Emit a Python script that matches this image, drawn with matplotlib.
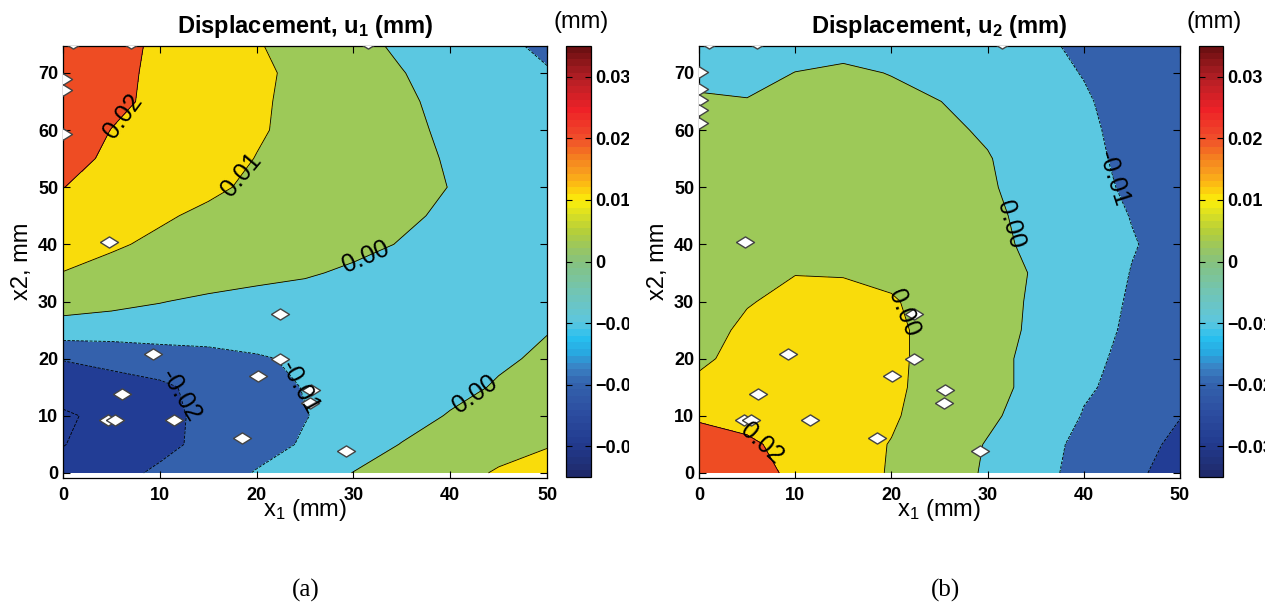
import numpy as np
import matplotlib
matplotlib.use("Agg")
import matplotlib.pyplot as plt
from matplotlib.colors import LinearSegmentedColormap, Normalize
from matplotlib.cm import ScalarMappable
from matplotlib.transforms import Bbox, TransformedBbox

plt.rcParams['font.family'] = ['Liberation Sans', 'DejaVu Sans']
plt.rcParams['mathtext.fontset'] = 'custom'
plt.rcParams['mathtext.rm'] = 'Liberation Sans'
plt.rcParams['mathtext.it'] = 'Liberation Sans:italic'
plt.rcParams['mathtext.bf'] = 'Liberation Sans:bold'

# ---------------- data ----------------
X_MM = [0, 5, 10, 15, 20, 25, 30, 35, 40, 45, 50]
Y_MM = [0, 5, 10, 15, 20, 25, 30, 35, 40, 45, 50, 55, 60, 65, 70, 75]

# displacement u1 in micrometres, rows = Y_MM, columns = X_MM
U1_UM = [
    [-27.0, -23.0, -18.5, -14.0, -9.5, -5.0, 0.2, 3.5, 7.0, 10.8, 13.0],
    [-30.3, -26.0, -22.5, -17.5, -13.0, -9.2, -4.5, 0.3, 4.0, 7.0, 9.5],
    [-31.5, -27.0, -23.0, -17.5, -13.5, -10.3, -7.0, -3.5, 0.6, 4.0, 7.0],
    [-25.0, -23.5, -21.5, -17.5, -13.5, -9.6, -7.0, -5.0, -2.5, 0.8, 3.5],
    [-19.6, -17.5, -15.5, -13.5, -11.0, -8.5, -6.5, -5.0, -3.5, -1.2, 1.3],
    [-4.5, -5.0, -4.5, -5.0, -5.0, -5.0, -5.0, -4.5, -3.5, -2.0, -0.3],
    [4.5, 2.5, 0.3, -1.5, -3.0, -4.0, -4.5, -4.5, -4.0, -3.0, -2.0],
    [9.8, 7.5, 5.5, 4.0, 2.5, 1.0, -1.5, -3.0, -4.0, -4.5, -5.0],
    [14.0, 11.0, 8.5, 7.0, 5.5, 4.0, 2.5, -0.5, -3.0, -4.5, -5.5],
    [17.0, 14.5, 11.0, 8.5, 7.0, 5.5, 4.0, 1.5, -1.5, -4.0, -6.0],
    [20.1, 17.5, 14.5, 11.5, 8.5, 6.5, 5.0, 3.0, -0.2, -3.5, -6.5],
    [22.0, 19.0, 16.0, 13.0, 9.8, 7.5, 5.5, 2.8, -0.8, -4.0, -7.0],
    [23.5, 19.9, 16.5, 13.5, 10.8, 7.8, 5.0, 2.0, -1.5, -4.5, -7.5],
    [24.5, 21.5, 18.5, 15.0, 11.0, 8.0, 5.0, 1.5, -2.5, -5.5, -8.5],
    [25.0, 22.0, 18.5, 15.0, 11.5, 8.0, 4.0, 0.3, -3.5, -6.5, -9.3],
    [24.0, 22.0, 19.0, 15.0, 10.5, 7.0, 2.5, -1.5, -4.5, -8.0, -12.0],
]

# displacement u2 in micrometres
U2_UM = [
    [27.0, 23.0, 18.5, 14.0, 9.3, 4.0, -1.0, -7.0, -13.0, -18.5, -23.0],
    [25.0, 21.5, 17.0, 13.0, 9.7, 4.5, -0.5, -6.0, -12.5, -17.5, -21.5],
    [18.5, 17.0, 15.0, 13.0, 11.0, 6.0, 1.5, -3.5, -10.5, -15.0, -19.8],
    [11.0, 13.0, 13.5, 13.0, 11.5, 7.0, 3.0, -2.5, -9.0, -12.5, -17.5],
    [9.2, 11.5, 13.0, 13.0, 11.5, 7.5, 3.0, -2.5, -7.5, -12.5, -16.0],
    [7.0, 11.5, 13.0, 13.0, 11.5, 7.5, 3.5, -1.5, -6.5, -11.5, -15.0],
    [5.5, 9.5, 12.0, 12.0, 10.8, 6.5, 3.0, -1.0, -5.5, -11.0, -14.5],
    [4.5, 7.0, 9.8, 9.6, 8.0, 5.0, 2.5, -0.5, -5.0, -10.3, -14.0],
    [4.0, 5.0, 6.0, 6.0, 5.5, 4.0, 2.0, -1.5, -5.5, -9.5, -13.0],
    [4.0, 4.5, 5.0, 5.0, 4.5, 3.5, 1.5, -2.0, -6.0, -10.3, -13.0],
    [4.0, 4.5, 4.5, 4.5, 4.0, 3.0, 0.8, -2.8, -7.0, -11.5, -13.5],
    [3.5, 4.0, 4.0, 4.0, 3.5, 2.5, 0.4, -3.5, -8.0, -12.0, -14.0],
    [2.5, 3.0, 3.0, 3.0, 2.5, 1.5, -0.9, -5.0, -8.5, -12.5, -14.5],
    [1.2, 0.3, 1.5, 2.0, 1.5, 0.1, -2.5, -6.0, -9.2, -13.0, -15.0],
    [-2.5, -2.0, 0.1, 1.0, -0.2, -3.0, -5.5, -7.5, -10.3, -14.0, -16.0],
    [-3.0, -3.0, -2.5, -2.0, -3.5, -5.0, -7.0, -9.0, -11.0, -14.5, -17.0],
]

# missing measurement points (white holes), shared by both maps
HOLE_X = [4.8, 22.4, 9.3, 22.4, 20.1, 6.1, 4.7, 5.4, 11.5, 18.5, 25.6, 25.5, 29.2]
HOLE_Y = [40.5, 27.8, 20.8, 19.9, 16.9, 13.9, 9.3, 9.3, 9.3, 6.1, 14.6, 12.2, 3.8]
EDGE_HOLES_A_X = [0, 0, 0, 1.0, 7.0, 31.5]
EDGE_HOLES_A_Y = [69.0, 67.0, 59.3, 75.2, 75.3, 75.2]
EDGE_HOLES_B_X = [0, 0, 0, 0, 0, 1.0, 6.0, 31.5]
EDGE_HOLES_B_Y = [70.2, 67.2, 65.3, 63.6, 61.2, 75.2, 75.3, 75.2]

LEVELS = [-0.03, -0.02, -0.01, 0.0, 0.01, 0.02, 0.03]
CBAR_TICKS = [-0.03, -0.02, -0.01, 0.0, 0.01, 0.02, 0.03]
CBAR_LABELS = ['\u22120.03', '\u22120.02', '\u22120.01', '0', '0.01', '0.02', '0.03']

# contour label texts and positions as printed on the maps
LAB_A_LEV = [0.02, 0.01, 0.0, -0.02, -0.01]
LAB_A_TXT = ['0.02', '0.01', '0.00', '-0.02', '-0.01']
LAB_A_X = [5.8, 18.5, 31.0, 42.5, 12.0, 24.5]
LAB_A_Y = [63.0, 52.0, 39.0, 14.0, 13.5, 15.0]
LAB_B_LEV = [0.02, 0.01, 0.0, -0.01]
LAB_B_TXT = ['0.02', '0.00', '0.00', '-0.01']
LAB_B_X = [6.5, 21.5, 32.5, 43.3]
LAB_B_Y = [5.0, 28.0, 43.5, 51.5]

# ---------------- styling ----------------
FILL_LEVELS = [-0.06, -0.03, -0.02, -0.01, 0.0, 0.01, 0.02, 0.03, 0.06]
FILL_COLORS = ['#223D95', '#223D95', '#3461AC', '#5BC8E1', '#9DC958',
               '#F9DC0B', '#EE4C23', '#C01F26']
CB_POS = [0.0, 0.071, 0.143, 0.214, 0.25, 0.286, 0.321, 0.357, 0.429, 0.5,
          0.536, 0.571, 0.607, 0.643, 0.679, 0.714, 0.75, 0.786, 0.857, 0.929, 1.0]
CB_COL = ['#1F2A6B', '#223B8F', '#2C4DA0', '#3463AE', '#3A82C4', '#28A9E1',
          '#27C0EF', '#5DC6DF', '#72C5B3', '#86C27E', '#9CC75C', '#B5CF3A',
          '#D6DD26', '#FBEF0A', '#FDBF12', '#F89A1E', '#F47A20', '#F0512A',
          '#EE2127', '#B51F25', '#6E1012']
cmap = LinearSegmentedColormap.from_list('jetlike', list(zip(CB_POS, CB_COL)), N=64)
norm = Normalize(-0.035, 0.035)

W, H = 1278, 605
fig = plt.figure(figsize=(W / 100, H / 100), dpi=100)


def fr(x0, y_top, x1, y_bot):
    return [x0 / W, 1 - y_bot / H, (x1 - x0) / W, (y_bot - y_top) / H]


diamond = [(-1, 0), (0, 0.62), (1, 0), (0, -0.62), (-1, 0)]


def panel(axpos, caxpos, data_um, title, lab_lev, lab_txt, lab_x, lab_y, ex, ey,
          clip_right):
    ax = fig.add_axes(fr(*axpos))
    Z = np.array(data_um) * 1e-3
    Xg, Yg = np.meshgrid(X_MM, Y_MM)
    ax.contourf(Xg, Yg, Z, levels=FILL_LEVELS, colors=FILL_COLORS)
    cs = ax.contour(Xg, Yg, Z, levels=LEVELS, colors='k', linewidths=0.6)
    hx = list(HOLE_X) + list(ex)
    hy = list(HOLE_Y) + list(ey)
    ax.plot(hx, hy, ls='none', marker=diamond, ms=13, mfc='white',
            mec='#444444', mew=1.0, zorder=3)
    fmt = {lv: '%.2f' % lv for lv in cs.levels}
    for lv, tx in zip(lab_lev, lab_txt):
        fmt[lv] = tx
    cs.clabel(manual=list(zip(lab_x, lab_y)), fmt=fmt, inline=False,
              fontsize=18, colors='k')
    ax.set_xlim(0, 50)
    ax.set_ylim(-0.8, 74.8)
    ax.set_xticks([0, 10, 20, 30, 40, 50])
    ax.set_yticks([0, 10, 20, 30, 40, 50, 60, 70])
    ax.tick_params(direction='in', top=True, right=True, length=5, width=0.8,
                   labelsize=13)
    ax.tick_params(axis='x', pad=7)
    for t in ax.get_xticklabels() + ax.get_yticklabels():
        t.set_fontweight('bold')
    for s in ax.spines.values():
        s.set_linewidth(0.9)
    ax.set_title(title, fontsize=17, fontweight='bold', pad=9)
    ax.set_xlabel(r'x$_{1}$ (mm)', fontsize=17)
    ax.set_ylabel('x2, mm', fontsize=17)
    ax.xaxis.set_label_coords(0.5, -0.045)
    ax.yaxis.set_label_coords(-0.062, 0.5)

    cax = fig.add_axes(fr(*caxpos))
    cb = fig.colorbar(ScalarMappable(norm=norm, cmap=cmap), cax=cax)
    cb.outline.set_linewidth(0.9)
    cb.set_ticks(CBAR_TICKS)
    cb.set_ticklabels(CBAR_LABELS)
    cax.tick_params(direction='in', left=True, right=True, length=4, width=0.8,
                    labelsize=13, pad=3)
    clipbox = TransformedBbox(Bbox([[0, 0], [clip_right / W, 1]]), fig.transFigure)
    for t in cax.get_yticklabels():
        t.set_fontweight('bold')
        t.set_clip_on(True)
        t.set_clip_box(clipbox)
    cx = (caxpos[0] + caxpos[2]) / 2 / W
    fig.text(cx + 3 / W, 1 - 22 / H, '(mm)', fontsize=17, ha='center', va='center')
    return ax


panel((63, 45.5, 547, 477.5), (566, 46, 591, 477), U1_UM,
      r'Displacement, u$_{\mathbf{1}}$ (mm)', LAB_A_LEV, LAB_A_TXT, LAB_A_X, LAB_A_Y,
      EDGE_HOLES_A_X, EDGE_HOLES_A_Y, 629)
panel((699, 45.5, 1180, 477.5), (1199, 46, 1223, 477), U2_UM,
      r'Displacement, u$_{\mathbf{2}}$ (mm)', LAB_B_LEV, LAB_B_TXT, LAB_B_X, LAB_B_Y,
      EDGE_HOLES_B_X, EDGE_HOLES_B_Y, 1265)

fig.text(306 / W, 1 - 590 / H, '(a)', fontsize=18, ha='center', va='center',
         family=['Liberation Serif', 'DejaVu Serif'])
fig.text(946 / W, 1 - 590 / H, '(b)', fontsize=18, ha='center', va='center',
         family=['Liberation Serif', 'DejaVu Serif'])

fig.savefig('out.png', dpi=100)
